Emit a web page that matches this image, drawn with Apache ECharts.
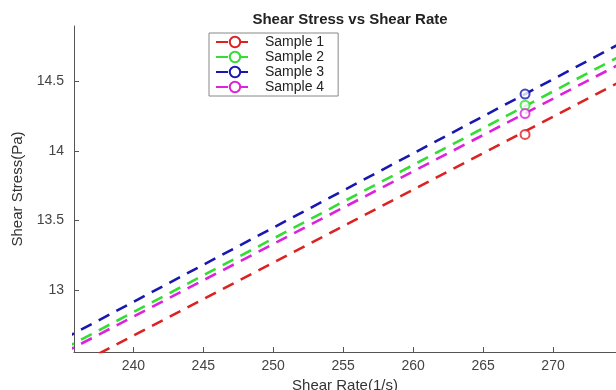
<!DOCTYPE html>
<html>
<head>
<meta charset="utf-8">
<script src="https://cdn.jsdelivr.net/npm/echarts@6/dist/echarts.min.js"></script>
<style>
  html, body { margin: 0; padding: 0; background: #fff; }
  #main { width: 616px; height: 390px; }
</style>
</head>
<body>
<div id="main"></div>
<script>
// fitted lines, read at the two ends of the plotted range
const lineX = [235, 275];
const sample1Line = [12.41, 14.51];
const sample2Line = [12.577, 14.694];
const sample3Line = [12.648, 14.784];
const sample4Line = [12.548, 14.638];

// measured points
const pointX = 268;
const sample1Point = 14.12;
const sample2Point = 14.33;
const sample3Point = 14.41;
const sample4Point = 14.27;

const xTicks = [240, 245, 250, 255, 260, 265, 270];
const yTicks = [13, 13.5, 14, 14.5];

const names = ['Sample 1', 'Sample 2', 'Sample 3', 'Sample 4'];
const colors = ['#dd2222', '#33dd33', '#1818b0', '#dd22dd'];
const lines = [sample1Line, sample2Line, sample3Line, sample4Line];
const points = [sample1Point, sample2Point, sample3Point, sample4Point];

const font = 'Liberation Sans, Arial, sans-serif';
const chart = echarts.init(document.getElementById('main'));

const series = [];
names.forEach((name, i) => {
  series.push({
    name: name,
    type: 'line',
    data: lineX.map((x, j) => [x, lines[i][j]]),
    symbol: 'emptyCircle',
    symbolSize: 9,
    showSymbol: false,
    color: colors[i],
    lineStyle: {width: 2.6, type: [12, 8], color: colors[i]},
    itemStyle: {color: colors[i], borderWidth: 2},
    clip: true,
    silent: true,
    animation: false
  });
});
names.forEach((name, i) => {
  series.push({
    name: name,
    type: 'scatter',
    data: [[pointX, points[i]]],
    symbol: 'emptyCircle',
    symbolSize: 9,
    itemStyle: {color: colors[i], borderColor: colors[i], borderWidth: 2},
    z: 3,
    animation: false
  });
});

chart.setOption({
  backgroundColor: '#fff',
  title: {
    text: 'Shear Stress vs Shear Rate',
    left: 345,
    textAlign: 'center',
    top: 7,
    textStyle: {fontFamily: font, fontSize: 15, fontWeight: 'bold', color: '#222'}
  },
  legend: {
    data: names,
    left: 209,
    top: 33,
    orient: 'vertical',
    itemWidth: 38,
    itemHeight: 13,
    itemGap: 1,
    padding: [2, 14, 2, 6],
    borderColor: '#888',
    borderWidth: 1,
    textStyle: {fontFamily: font, fontSize: 14, lineHeight: 13, height: 13, color: '#222', padding: [0, 0, 0, 6]}
  },
  grid: {left: 74, right: 0, top: 26, bottom: 38, outerBoundsMode: 'none', containLabel: false},
  xAxis: {
    type: 'value',
    min: 235.76,
    max: 274.5,
    name: 'Shear Rate(1/s)',
    nameLocation: 'middle',
    nameGap: 24,
    nameTextStyle: {fontFamily: font, fontSize: 15, color: '#333'},
    axisLine: {show: true, onZero: false, lineStyle: {color: '#555', width: 1}},
    axisTick: {show: true, inside: true, length: 5, lineStyle: {color: '#555'}, customValues: xTicks},
    axisLabel: {fontFamily: font, fontSize: 14, color: '#444', margin: 7, customValues: xTicks},
    splitLine: {show: false}
  },
  yAxis: {
    type: 'value',
    min: 12.555,
    max: 14.9,
    name: 'Shear Stress(Pa)',
    nameLocation: 'middle',
    nameGap: 48,
    nameTextStyle: {fontFamily: font, fontSize: 15, color: '#333'},
    axisLine: {show: true, onZero: false, lineStyle: {color: '#555', width: 1}},
    axisTick: {show: true, inside: true, length: 5, lineStyle: {color: '#555'}, customValues: yTicks},
    axisLabel: {fontFamily: font, fontSize: 14, color: '#444', margin: 10, customValues: yTicks},
    splitLine: {show: false}
  },
  series: series
});
</script>
</body>
</html>
